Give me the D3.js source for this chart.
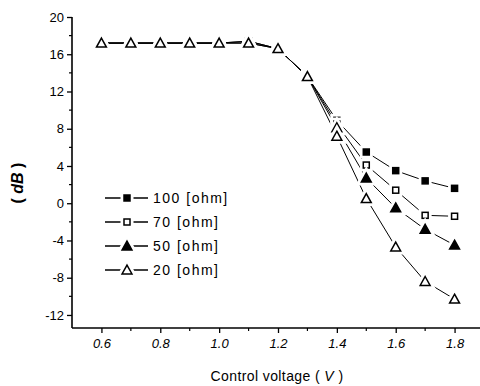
<!DOCTYPE html>
<html>
<head>
<meta charset="utf-8">
<script src="https://cdn.jsdelivr.net/npm/d3@7"></script>
<style>
  body { margin: 0; background: #fff; }
  text { font-family: "Liberation Sans", Arial, sans-serif; fill: #000; }
</style>
</head>
<body>
<script>
const w = 480;
const h = 386;

// Data

const voltage = [0.6, 0.7, 0.8, 0.9, 1.0, 1.1, 1.2, 1.3, 1.4, 1.5, 1.6, 1.7, 1.8];
const ohm100 = [17.2, 17.2, 17.2, 17.2, 17.2, 17.4, 16.6, 13.6, 8.9, 5.5, 3.5, 2.4, 1.6];
const ohm70 = [17.2, 17.2, 17.2, 17.2, 17.2, 17.4, 16.6, 13.6, 8.5, 4.1, 1.4, -1.3, -1.4];
const ohm50 = [17.2, 17.2, 17.2, 17.2, 17.2, 17.2, 16.6, 13.6, 8.1, 2.7, -0.5, -2.8, -4.5];
const ohm20 = [17.2, 17.2, 17.2, 17.2, 17.2, 17.2, 16.6, 13.6, 7.2, 0.5, -4.7, -8.4, -10.3];
const seriesNames = ["100 [ohm]", "70 [ohm]", "50 [ohm]", "20 [ohm]"];
const xTicks = [0.6, 0.8, 1.0, 1.2, 1.4, 1.6, 1.8];
const yTicks = [-12, -8, -4, 0, 4, 8, 12, 16, 20];

const series = [
  { name: seriesNames[0], values: ohm100, shape: "square", filled: true },
  { name: seriesNames[1], values: ohm70, shape: "square", filled: false },
  { name: seriesNames[2], values: ohm50, shape: "triangle", filled: true },
  { name: seriesNames[3], values: ohm20, shape: "triangle", filled: false }
];

// Scales

const x = d3.scaleLinear().domain([0.5, 1.9]).range([72, 484]);
const y = d3.scaleLinear().domain([-13.4, 20]).range([328, 17]);

const svg = d3.select("body").append("svg").attr("width", w).attr("height", h);

// Axes

const yAxis = svg.append("g").attr("transform", "translate(72,0)")
  .call(d3.axisLeft(y).tickValues(yTicks).tickFormat((d) => String(d)).tickSize(5).tickPadding(3));
yAxis.select(".domain").attr("d", `M0,${y(20)}V328`).attr("stroke-width", 1.6);
yAxis.selectAll(".tick line").attr("stroke-width", 1.3);
yAxis.selectAll("text").attr("font-size", 13);
yAxis.selectAll(".minor").data(d3.range(-10, 20, 4)).join("line")
  .attr("x1", -3).attr("x2", 0).attr("y1", (d) => y(d)).attr("y2", (d) => y(d))
  .attr("stroke", "#000").attr("stroke-width", 1.2);

const xAxis = svg.append("g").attr("transform", "translate(0,328)")
  .call(d3.axisBottom(x).tickValues(xTicks).tickFormat(d3.format(".1f")).tickSize(5).tickPadding(6));
xAxis.select(".domain").attr("d", "M72,0H480").attr("stroke-width", 1.6);
xAxis.selectAll(".tick line").attr("stroke-width", 1.3);
xAxis.selectAll("text").attr("font-size", 13).attr("font-style", "italic");
xAxis.selectAll(".minor").data([0.7, 0.9, 1.1, 1.3, 1.5, 1.7]).join("line")
  .attr("x1", (d) => x(d)).attr("x2", (d) => x(d)).attr("y1", 0).attr("y2", 3)
  .attr("stroke", "#000").attr("stroke-width", 1.2);

// Axis titles

svg.append("text")
  .attr("transform", "translate(23,183) rotate(-90)")
  .attr("text-anchor", "middle").attr("font-size", 16).attr("font-weight", "bold")
  .html('( <tspan font-style="italic">dB</tspan> )');

svg.append("text")
  .attr("x", 277).attr("y", 381)
  .attr("text-anchor", "middle").attr("font-size", 14).attr("letter-spacing", 0.4)
  .html('Control voltage ( <tspan font-style="italic">V</tspan> )');

// Markers

function marker(g, s, cx, cy, size) {
  if (s.shape === "square") {
    g.append("rect")
      .attr("x", cx - size / 2).attr("y", cy - size / 2)
      .attr("width", size).attr("height", size);
  } else {
    const r = size * 0.55;
    g.append("path")
      .attr("d", `M${cx},${cy - r}L${cx + r},${cy + r * 0.8}L${cx - r},${cy + r * 0.8}Z`);
  }
}

function symbol(g, s, cx, cy) {
  const sz = s.shape === "square" ? 6 : 9;
  const halo = g.append("g").attr("fill", "#fff").attr("stroke", "#fff").attr("stroke-width", 7);
  marker(halo, s, cx, cy, sz);
  const m = g.append("g").attr("fill", s.filled ? "#000" : "#fff").attr("stroke", "#000").attr("stroke-width", 1.5);
  marker(m, s, cx, cy, sz);
}

// Lines

const line = d3.line().x((d, i) => x(voltage[i])).y((d) => y(d));

svg.append("g").selectAll("path").data(series).join("path")
  .attr("d", (d) => line(d.values))
  .attr("fill", "none").attr("stroke", "#000").attr("stroke-width", 1);

// Points (white halo gives the gap around each symbol), 20 ohm drawn last

series.forEach((s) => {
  const g = svg.append("g");
  s.values.forEach((v, i) => symbol(g, s, x(voltage[i]), y(v)));
});

// Legend

const legend = svg.append("g");
series.forEach((s, i) => {
  const ly = 198 + i * 24;
  legend.append("line").attr("x1", 105).attr("x2", 148).attr("y1", ly).attr("y2", ly)
    .attr("stroke", "#000").attr("stroke-width", 1.3);
  symbol(legend, s, 127, ly);
  legend.append("text").attr("x", 153).attr("y", ly + 5)
    .attr("font-size", 14).attr("letter-spacing", 1.5).text(s.name);
});
</script>
</body>
</html>
